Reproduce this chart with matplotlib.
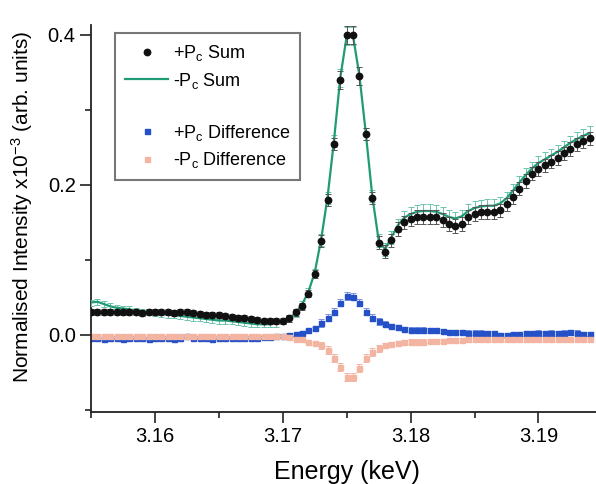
import matplotlib
matplotlib.use("Agg")
import matplotlib.pyplot as plt
from matplotlib.lines import Line2D
from matplotlib.ticker import MultipleLocator, FormatStrFormatter

plt.rcParams['font.family'] = ['Liberation Sans', 'DejaVu Sans']
plt.rcParams['mathtext.fontset'] = 'custom'
plt.rcParams['mathtext.rm'] = 'Liberation Sans'
plt.rcParams['mathtext.it'] = 'Liberation Sans:italic'

# energy grid (keV)
energy = [
    3.1550, 3.1555, 3.1560, 3.1565, 3.1570, 3.1575, 3.1580, 3.1585, 3.1590, 3.1595,
    3.1600, 3.1605, 3.1610, 3.1615, 3.1620, 3.1625, 3.1630, 3.1635, 3.1640, 3.1645,
    3.1650, 3.1655, 3.1660, 3.1665, 3.1670, 3.1675, 3.1680, 3.1685, 3.1690, 3.1695,
    3.1700, 3.1705, 3.1710, 3.1715, 3.1720, 3.1725, 3.1730, 3.1735, 3.1740, 3.1745,
    3.1750, 3.1755, 3.1760, 3.1765, 3.1770, 3.1775, 3.1780, 3.1785, 3.1790, 3.1795,
    3.1800, 3.1805, 3.1810, 3.1815, 3.1820, 3.1825, 3.1830, 3.1835, 3.1840, 3.1845,
    3.1850, 3.1855, 3.1860, 3.1865, 3.1870, 3.1875, 3.1880, 3.1885, 3.1890, 3.1895,
    3.1900, 3.1905, 3.1910, 3.1915, 3.1920, 3.1925, 3.1930, 3.1935, 3.1940,
]

# +Pc sum (dots)
sum_plus = [
    0.031, 0.031, 0.030, 0.031, 0.031, 0.030, 0.030, 0.030, 0.029, 0.030,
    0.030, 0.030, 0.030, 0.029, 0.030, 0.031, 0.029, 0.028, 0.027, 0.027,
    0.026, 0.025, 0.024, 0.023, 0.022, 0.021, 0.020, 0.018, 0.018, 0.018,
    0.018, 0.022, 0.030, 0.038, 0.055, 0.081, 0.125, 0.180, 0.254, 0.340,
    0.400, 0.400, 0.345, 0.268, 0.183, 0.123, 0.111, 0.126, 0.141, 0.150,
    0.154, 0.157, 0.157, 0.157, 0.157, 0.153, 0.148, 0.145, 0.148, 0.157,
    0.161, 0.164, 0.164, 0.164, 0.166, 0.174, 0.184, 0.195, 0.205, 0.215,
    0.221, 0.226, 0.231, 0.236, 0.242, 0.248, 0.254, 0.258, 0.262,
]

# -Pc sum (line)
sum_minus = [
    0.043, 0.044, 0.041, 0.038, 0.036, 0.035, 0.034, 0.032, 0.031, 0.030,
    0.029, 0.028, 0.027, 0.026, 0.025, 0.024, 0.023, 0.022, 0.021, 0.020,
    0.019, 0.019, 0.018, 0.017, 0.016, 0.015, 0.014, 0.014, 0.014, 0.015,
    0.018, 0.022, 0.029, 0.040, 0.057, 0.083, 0.127, 0.183, 0.258, 0.343,
    0.398, 0.398, 0.345, 0.268, 0.185, 0.126, 0.114, 0.130, 0.146, 0.156,
    0.161, 0.164, 0.165, 0.165, 0.164, 0.161, 0.157, 0.155, 0.158, 0.165,
    0.169, 0.171, 0.172, 0.172, 0.175, 0.182, 0.192, 0.203, 0.213, 0.222,
    0.229, 0.234, 0.239, 0.244, 0.250, 0.256, 0.261, 0.265, 0.269,
]

# +Pc difference (blue squares)
diff_plus = [
    -0.004, -0.004, -0.005, -0.004, -0.004, -0.005, -0.004, -0.004, -0.004, -0.005,
    -0.004, -0.004, -0.004, -0.005, -0.004, -0.001, -0.004, -0.004, -0.004, -0.005,
    -0.004, -0.004, -0.004, -0.004, -0.004, -0.004, -0.004, -0.003, -0.003, -0.002,
    -0.001, 0.000, 0.001, 0.003, 0.006, 0.009, 0.016, 0.023, 0.031, 0.043,
    0.052, 0.051, 0.043, 0.031, 0.023, 0.018, 0.015, 0.012, 0.010, 0.008,
    0.007, 0.007, 0.007, 0.006, 0.006, 0.005, 0.004, 0.004, 0.004, 0.003,
    0.003, 0.003, 0.002, 0.002, 0.000, 0.000, 0.001, 0.001, 0.002, 0.002,
    0.003, 0.002, 0.003, 0.002, 0.003, 0.004, 0.003, 0.001, 0.001,
]

# -Pc difference (pink squares)
diff_minus = [
    -0.002, -0.002, -0.001, -0.002, -0.002, -0.002, -0.001, -0.002, -0.002, -0.002,
    -0.002, -0.001, -0.002, -0.002, -0.002, -0.002, -0.001, -0.002, -0.002, -0.002,
    -0.002, -0.002, -0.001, -0.002, -0.002, -0.002, -0.002, -0.002, -0.002, -0.002,
    -0.002, -0.003, -0.005, -0.006, -0.009, -0.011, -0.014, -0.020, -0.031, -0.043,
    -0.056, -0.056, -0.044, -0.031, -0.023, -0.018, -0.014, -0.012, -0.011, -0.010,
    -0.009, -0.009, -0.009, -0.008, -0.008, -0.008, -0.007, -0.007, -0.007, -0.006,
    -0.006, -0.006, -0.006, -0.005, -0.005, -0.006, -0.006, -0.005, -0.006, -0.006,
    -0.006, -0.006, -0.005, -0.006, -0.006, -0.006, -0.005, -0.006, -0.006,
]

sum_err = [0.004] * 31 + [0.005] * 5 + [0.008] * 3 + [0.012] * 4 + [0.008] * 2 + [0.009] * 34
diff_err = [0.002] * 36 + [0.005] * 10 + [0.003] * 33

black = '#111111'
green = '#1f9b76'
blue = '#2450c8'
pink = '#f4b4a2'

fig = plt.figure(figsize=(5.96, 4.84), dpi=100)
ax = fig.add_axes([91 / 596, 72 / 484, 505 / 596, 387 / 484])

ax.errorbar(energy, diff_plus, yerr=diff_err, fmt='s', ms=3.6, color=blue,
            ecolor='#7f95dd', elinewidth=0.7, capsize=2, capthick=0.7, zorder=2)
ax.errorbar(energy, diff_minus, yerr=diff_err, fmt='s', ms=3.6, color=pink,
            ecolor=pink, elinewidth=0.7, capsize=2, capthick=0.7, zorder=2)
ax.errorbar(energy, sum_minus, yerr=sum_err, fmt='-', lw=1.6, color=green,
            ecolor='#6cc4ae', elinewidth=0.7, capsize=2.5, capthick=0.7, zorder=3)
ax.errorbar(energy, sum_plus, yerr=sum_err, fmt='o', ms=4.6, color=black,
            ecolor='#555555', elinewidth=0.7, capsize=2.5, capthick=0.7, zorder=4)

ax.set_xlim(3.155, 3.1945)
ax.set_ylim(-0.103, 0.413)

for s in ['top', 'right']:
    ax.spines[s].set_visible(False)
for s in ['left', 'bottom']:
    ax.spines[s].set_linewidth(1.3)
    ax.spines[s].set_color('#222222')

ax.xaxis.set_major_locator(MultipleLocator(0.01))
ax.xaxis.set_minor_locator(MultipleLocator(0.005))
ax.xaxis.set_major_formatter(FormatStrFormatter('%.2f'))
ax.yaxis.set_major_locator(MultipleLocator(0.2))
ax.yaxis.set_minor_locator(MultipleLocator(0.1))
ax.yaxis.set_major_formatter(FormatStrFormatter('%.1f'))
ax.tick_params(which='major', direction='out', length=8, width=1.2,
               labelsize=14.5, color='#222222', pad=3)
ax.tick_params(which='minor', direction='out', length=4.5, width=1.2, color='#222222')

ax.set_xlabel('Energy (keV)', fontsize=18)
ax.set_ylabel('Normalised Intensity x10$^{-3}$ (arb. units)', fontsize=15)
ax.xaxis.set_label_coords(0.507, -0.125)
ax.yaxis.set_label_coords(-0.11, 0.53)

handles = [
    Line2D([], [], ls='none', marker='o', ms=4.6, color=black),
    Line2D([], [], ls='-', lw=1.6, color=green),
    Line2D([], [], ls='none'),
    Line2D([], [], ls='none', marker='s', ms=3.6, color=blue),
    Line2D([], [], ls='none', marker='s', ms=3.6, color=pink),
]
labels = ['+P$_\\mathregular{c}$ Sum', '-P$_\\mathregular{c}$ Sum', ' ',
          '+P$_\\mathregular{c}$ Difference', '-P$_\\mathregular{c}$ Difference']
leg = ax.legend(handles, labels, loc='upper left', bbox_to_anchor=(0.0475, 0.979),
                borderaxespad=0, fontsize=13, handlelength=2.4, handletextpad=0.25,
                borderpad=0.55, labelspacing=0.42, fancybox=False, framealpha=1)
leg.get_frame().set_edgecolor('#777777')
leg.get_frame().set_linewidth(1.5)

fig.savefig('out.png', dpi=100)
